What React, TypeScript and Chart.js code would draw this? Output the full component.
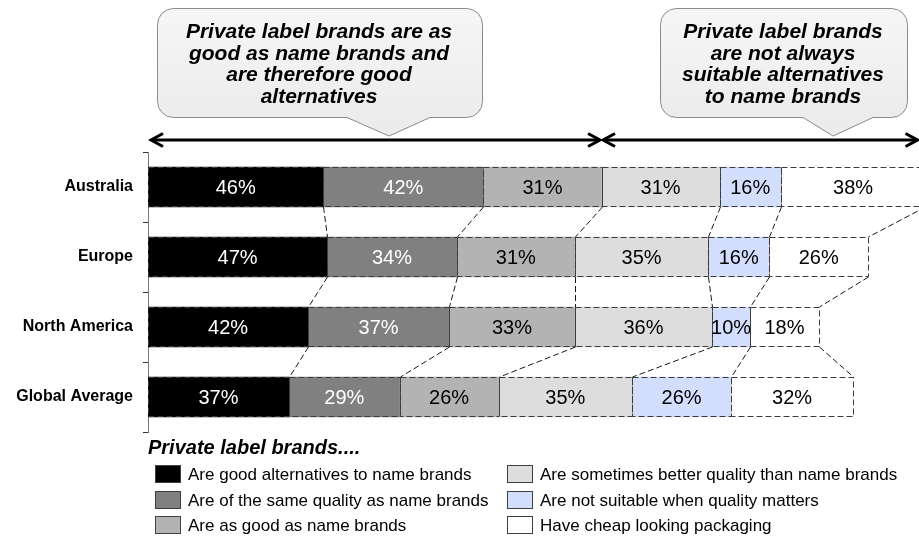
import React, { useEffect, useRef } from "react";
import { Chart, registerables } from "chart.js";

Chart.register(...registerables);

const categories = ["Australia", "Europe", "North America", "Global Average"];
const seriesLabels = [
  "Are good alternatives to name brands",
  "Are of the same quality as name brands",
  "Are as good as name brands",
  "Are sometimes better quality than name brands",
  "Are not suitable when quality matters",
  "Have cheap looking packaging",
];
const goodAlternatives = [46, 47, 42, 37];
const sameQuality = [42, 34, 37, 29];
const asGood = [31, 31, 33, 26];
const sometimesBetter = [31, 35, 36, 35];
const notSuitable = [16, 16, 10, 26];
const cheapPackaging = [38, 26, 18, 32];
const seriesValues = [goodAlternatives, sameQuality, asGood, sometimesBetter, notSuitable, cheapPackaging];
const seriesColors = ["#000000", "#808080", "#b3b3b3", "#dddddd", "#d3defc", "#ffffff"];
const labelColors = ["#ffffff", "#ffffff", "#000000", "#000000", "#000000", "#000000"];
const positiveGroupSize = 3; // first three series form the "good alternatives" group
const legendTitle = "Private label brands....";
const calloutLeft = ["Private label brands are as", "good as name brands and", "are therefore good", "alternatives"];
const calloutRight = ["Private label brands", "are not always", "suitable alternatives", "to name brands"];

const FONT = "'Liberation Sans', Arial, Helvetica, sans-serif";

function drawCallout(ctx: CanvasRenderingContext2D, b: any, lines: string[]) {
  const { x1, x2, y1, y2, r, p1, p2, tx, ty } = b;
  ctx.save();
  ctx.beginPath();
  ctx.moveTo(x1 + r, y1);
  ctx.lineTo(x2 - r, y1);
  ctx.arcTo(x2, y1, x2, y1 + r, r);
  ctx.lineTo(x2, y2 - r);
  ctx.arcTo(x2, y2, x2 - r, y2, r);
  ctx.lineTo(p2, y2);
  ctx.lineTo(tx, ty);
  ctx.lineTo(p1, y2);
  ctx.lineTo(x1 + r, y2);
  ctx.arcTo(x1, y2, x1, y2 - r, r);
  ctx.lineTo(x1, y1 + r);
  ctx.arcTo(x1, y1, x1 + r, y1, r);
  ctx.closePath();
  const g = ctx.createLinearGradient(0, y1, 0, y2);
  g.addColorStop(0, "#f6f6f6");
  g.addColorStop(1, "#ececec");
  ctx.fillStyle = g;
  ctx.fill();
  ctx.strokeStyle = "#8a8a8a";
  ctx.lineWidth = 1;
  ctx.stroke();
  ctx.fillStyle = "#000";
  ctx.font = `italic bold 21px ${FONT}`;
  ctx.textAlign = "center";
  ctx.textBaseline = "middle";
  const cx = b.cx;
  lines.forEach((t, i) => ctx.fillText(t, cx, 32 + i * 21.8));
  ctx.restore();
}

function drawArrow(ctx: CanvasRenderingContext2D, xa: number, xb: number, y: number) {
  ctx.save();
  ctx.strokeStyle = "#000";
  ctx.lineWidth = 3;
  ctx.lineCap = "butt";
  ctx.lineJoin = "miter";
  ctx.beginPath();
  ctx.moveTo(xa + 1, y);
  ctx.lineTo(xb - 1, y);
  ctx.stroke();
  ctx.beginPath();
  ctx.moveTo(xa + 12, y - 6.5);
  ctx.lineTo(xa, y);
  ctx.lineTo(xa + 12, y + 6.5);
  ctx.moveTo(xb - 12, y - 6.5);
  ctx.lineTo(xb, y);
  ctx.lineTo(xb - 12, y + 6.5);
  ctx.stroke();
  ctx.restore();
}

const overlayPlugin = {
  id: "overlay",
  afterDatasetsDraw(chart: any) {
    const ctx: CanvasRenderingContext2D = chart.ctx;
    const n = chart.data.datasets.length;
    // dashed segment borders
    ctx.save();
    ctx.setLineDash([6, 3]);
    ctx.strokeStyle = "#3c3c3c";
    ctx.lineWidth = 1;
    for (let d = 0; d < n; d++) {
      const meta = chart.getDatasetMeta(d);
      meta.data.forEach((el: any) => {
        const p = el.getProps(["x", "y", "base", "height"], true);
        const l = Math.round(Math.min(p.x, p.base)) + 0.5;
        const r = Math.round(Math.max(p.x, p.base)) + 0.5;
        const t = Math.round(p.y - p.height / 2) + 0.5;
        const b = Math.round(p.y + p.height / 2) - 0.5;
        ctx.strokeRect(l, t, r - l, b - t);
      });
    }
    // connectors between consecutive bars
    ctx.strokeStyle = "#1a1a1a";
    for (let d = 0; d < n; d++) {
      const meta = chart.getDatasetMeta(d);
      for (let i = 0; i < meta.data.length - 1; i++) {
        const a = meta.data[i].getProps(["x", "y", "height"], true);
        const c = meta.data[i + 1].getProps(["x", "y", "height"], true);
        ctx.beginPath();
        ctx.moveTo(Math.round(a.x) + 0.5, Math.round(a.y + a.height / 2));
        ctx.lineTo(Math.round(c.x) + 0.5, Math.round(c.y - c.height / 2));
        ctx.stroke();
      }
    }
    ctx.restore();
    // value labels
    ctx.save();
    ctx.font = `20px ${FONT}`;
    ctx.textAlign = "center";
    ctx.textBaseline = "middle";
    for (let d = 0; d < n; d++) {
      const meta = chart.getDatasetMeta(d);
      meta.data.forEach((el: any, i: number) => {
        const p = el.getProps(["x", "y", "base"], true);
        ctx.fillStyle = labelColors[d];
        ctx.fillText(`${chart.data.datasets[d].data[i]}%`, (p.x + p.base) / 2, p.y + 1);
      });
    }
    ctx.restore();
  },
  afterDraw(chart: any) {
    const ctx: CanvasRenderingContext2D = chart.ctx;
    const xs = chart.scales.x;
    // callouts
    drawCallout(ctx, { x1: 157.5, x2: 482.5, y1: 8.5, y2: 117.5, r: 16, p1: 347, p2: 430, tx: 389, ty: 136, cx: 319 }, calloutLeft);
    drawCallout(ctx, { x1: 660.5, x2: 907.5, y1: 8.5, y2: 117.5, r: 16, p1: 803, p2: 873, tx: 833, ty: 136, cx: 783 }, calloutRight);
    // arrows spanning the groups of the first category
    let split = 0;
    let total = 0;
    seriesValues.forEach((s, k) => {
      total += s[0];
      if (k < positiveGroupSize) split += s[0];
    });
    const x0 = xs.getPixelForValue(0);
    const xm = xs.getPixelForValue(split);
    const xe = xs.getPixelForValue(total);
    drawArrow(ctx, x0 + 3, xm - 1.5, 140);
    drawArrow(ctx, xm + 1.5, xe - 8, 140);
    // legend
    ctx.save();
    ctx.fillStyle = "#000";
    ctx.font = `italic bold 20px ${FONT}`;
    ctx.textAlign = "left";
    ctx.textBaseline = "middle";
    ctx.fillText(legendTitle, 148, 448);
    ctx.font = `17px ${FONT}`;
    const colX = [155, 507];
    const rowY = [474, 500, 525];
    chart.data.datasets.forEach((ds: any, d: number) => {
      const col = Math.floor(d / 3);
      const row = d % 3;
      const bx = colX[col];
      const by = rowY[row];
      ctx.fillStyle = ds.backgroundColor;
      ctx.fillRect(bx, by - 9, 26, 18);
      ctx.strokeStyle = "#404040";
      ctx.lineWidth = 1;
      ctx.strokeRect(bx + 0.5, by - 8.5, 25, 17);
      ctx.fillStyle = "#000";
      ctx.fillText(ds.label, bx + 33, by + 1);
    });
    ctx.restore();
  },
};

export default function App() {
  const ref = useRef<HTMLCanvasElement | null>(null);
  useEffect(() => {
    if (!ref.current) return;
    const chart = new Chart(ref.current, {
      type: "bar",
      data: {
        labels: categories,
        datasets: seriesValues.map((vals, d) => ({
          label: seriesLabels[d],
          data: vals,
          backgroundColor: seriesColors[d],
          borderWidth: 0,
          barThickness: 40,
        })),
      },
      options: {
        indexAxis: "y",
        animation: false,
        responsive: false,
        layout: { padding: { top: 152, bottom: 105, left: 0, right: 0 } },
        plugins: { legend: { display: false }, tooltip: { enabled: false } },
        scales: {
          x: { stacked: true, min: 0, max: 202.3, display: false },
          y: {
            stacked: true,
            afterFit: (scale: any) => {
              scale.width = 148;
            },
            grid: { drawOnChartArea: false, tickLength: 5, color: "#333", offset: true },
            border: { display: true, color: "#7a7a7a", dash: [5, 3] },
            ticks: {
              color: "#000",
              padding: 10,
              font: { family: FONT, size: 16, weight: "bold" },
            },
          },
        },
      },
      plugins: [overlayPlugin],
    });
    return () => chart.destroy();
  }, []);
  return (
    <div style={{ position: "absolute", left: 0, top: 0, width: 919, height: 537, background: "#fff" }}>
      <canvas ref={ref} width={919} height={537} style={{ display: "block" }} />
    </div>
  );
}
